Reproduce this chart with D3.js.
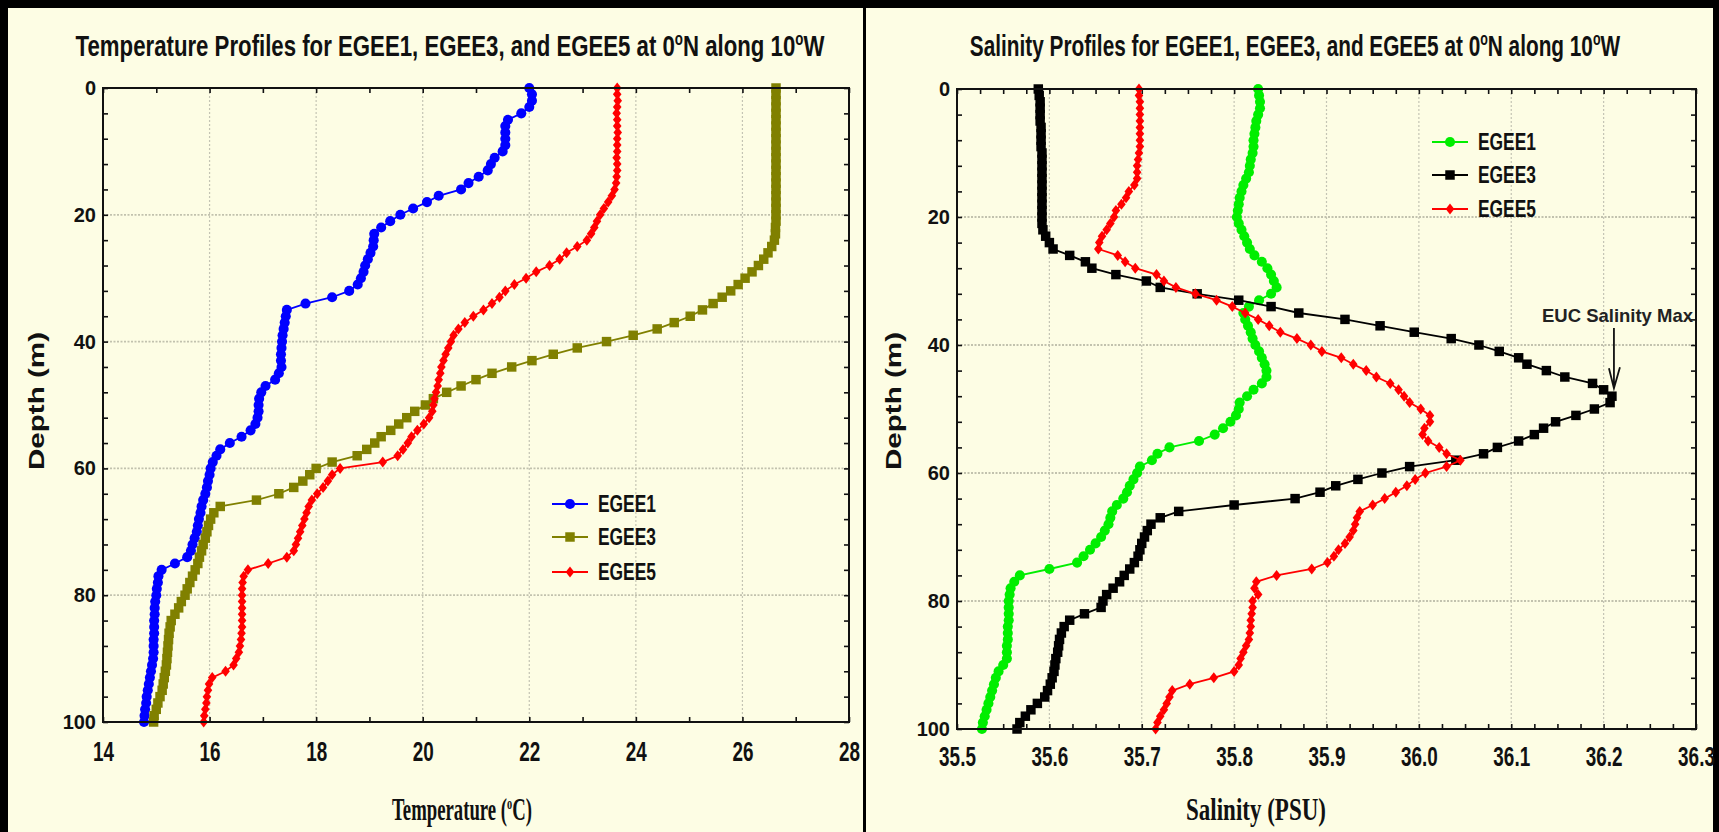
<!DOCTYPE html>
<html>
<head>
<meta charset="utf-8">
<script src="https://cdn.jsdelivr.net/npm/d3@7"></script>
<style>
  body { margin: 0; background: #000; }
  svg { display: block; }
</style>
</head>
<body>
<svg id="chart" width="1719" height="832"></svg>
<script>
// ----------------------------
// Data (depth in m, one reading per metre)
// ----------------------------
const depths = [0,1,2,3,4,5,6,7,8,9,10,11,12,13,14,15,16,17,18,19,20,21,22,23,24,25,26,27,28,29,30,
  31,32,33,34,35,36,37,38,39,40,41,42,43,44,45,46,47,48,49,50,51,52,53,54,55,56,57,58,59,60,
  61,62,63,64,65,66,67,68,69,70,71,72,73,74,75,76,77,78,79,80,81,82,83,84,85,86,87,88,89,90,
  91,92,93,94,95,96,97,98,99,100];

const seriesNames = ["EGEE1", "EGEE3", "EGEE5"];

const tempEGEE1 = [22.0,22.05,22.05,22.0,21.85,21.6,21.55,21.55,21.55,21.55,
  21.5,21.35,21.28,21.22,21.05,20.86,20.72,20.3,20.08,19.82,
  19.58,19.39,19.22,19.09,19.08,19.07,19.02,18.97,18.92,18.89,
  18.84,18.78,18.62,18.3,17.8,17.45,17.43,17.41,17.39,17.37,
  17.36,17.35,17.34,17.34,17.35,17.3,17.23,17.05,16.97,16.93,
  16.92,16.92,16.9,16.86,16.77,16.6,16.38,16.2,16.13,16.06,
  16.02,16.0,15.97,15.95,15.92,15.88,15.85,15.83,15.8,15.78,
  15.76,15.72,15.68,15.65,15.58,15.35,15.1,15.04,15.03,15.01,
  15.0,14.98,14.97,14.97,14.96,14.96,14.96,14.95,14.95,14.95,
  14.94,14.92,14.9,14.88,14.86,14.84,14.82,14.81,14.79,14.78,14.77];

const tempEGEE3 = [26.63,26.63,26.63,26.63,26.63,26.63,26.63,26.63,26.63,26.63,
  26.63,26.63,26.63,26.63,26.63,26.63,26.63,26.63,26.63,26.63,
  26.63,26.63,26.62,26.62,26.6,26.55,26.48,26.4,26.3,26.18,
  26.05,25.92,25.78,25.62,25.45,25.25,25.02,24.72,24.4,23.95,
  23.45,22.9,22.45,22.05,21.67,21.3,21.0,20.72,20.45,20.2,
  20.05,19.85,19.7,19.55,19.4,19.22,19.1,18.95,18.77,18.3,
  18.0,17.88,17.75,17.58,17.3,16.88,16.2,16.08,16.02,15.98,
  15.95,15.92,15.88,15.85,15.81,15.78,15.73,15.68,15.63,15.58,
  15.54,15.47,15.42,15.35,15.28,15.26,15.24,15.23,15.22,15.21,
  15.2,15.19,15.17,15.15,15.13,15.11,15.07,15.03,15.0,14.96,14.95];

const tempEGEE5 = [23.65,23.65,23.66,23.65,23.64,23.65,23.65,23.66,23.65,23.65,
  23.65,23.64,23.65,23.65,23.64,23.63,23.6,23.55,23.48,23.4,
  23.33,23.27,23.22,23.16,23.08,22.9,22.7,22.57,22.38,22.13,
  21.94,21.72,21.55,21.44,21.3,21.14,20.95,20.79,20.67,20.58,
  20.53,20.48,20.43,20.39,20.35,20.33,20.3,20.28,20.25,20.22,
  20.2,20.18,20.12,20.02,19.9,19.79,19.72,19.63,19.53,19.25,
  18.45,18.3,18.22,18.13,18.02,17.92,17.86,17.82,17.78,17.74,
  17.7,17.66,17.62,17.58,17.45,17.1,16.72,16.64,16.62,16.61,
  16.61,16.61,16.61,16.61,16.61,16.61,16.6,16.59,16.57,16.55,
  16.5,16.45,16.3,16.05,15.99,15.97,15.95,15.94,15.92,15.9,15.89];

const salEGEE1 = [35.826,35.827,35.828,35.828,35.826,35.824,35.823,35.822,35.821,35.821,
  35.82,35.818,35.817,35.816,35.813,35.81,35.808,35.806,35.805,35.804,
  35.803,35.805,35.808,35.811,35.814,35.817,35.822,35.83,35.836,35.84,
  35.843,35.846,35.84,35.827,35.816,35.81,35.812,35.815,35.818,35.82,
  35.823,35.827,35.83,35.833,35.835,35.835,35.83,35.821,35.814,35.806,
  35.805,35.802,35.796,35.788,35.779,35.762,35.73,35.717,35.711,35.698,
  35.695,35.691,35.687,35.684,35.68,35.673,35.668,35.666,35.664,35.66,
  35.656,35.65,35.644,35.637,35.63,35.6,35.568,35.562,35.558,35.557,
  35.556,35.556,35.556,35.556,35.555,35.555,35.555,35.554,35.554,35.554,
  35.55,35.545,35.542,35.54,35.538,35.536,35.534,35.532,35.53,35.528,35.527];

const salEGEE3 = [35.588,35.589,35.59,35.59,35.59,35.59,35.591,35.591,35.591,35.591,
  35.592,35.592,35.592,35.592,35.592,35.592,35.592,35.592,35.592,35.592,
  35.592,35.592,35.593,35.596,35.6,35.604,35.622,35.639,35.646,35.672,
  35.705,35.72,35.76,35.805,35.84,35.87,35.92,35.958,35.995,36.035,
  36.065,36.087,36.108,36.117,36.138,36.158,36.188,36.2,36.209,36.207,
  36.19,36.17,36.148,36.135,36.125,36.108,36.085,36.07,36.04,35.99,
  35.96,35.934,35.91,35.893,35.866,35.8,35.74,35.72,35.71,35.706,
  35.703,35.7,35.698,35.696,35.692,35.687,35.681,35.676,35.669,35.662,
  35.658,35.656,35.638,35.622,35.616,35.613,35.611,35.61,35.609,35.607,
  35.606,35.605,35.603,35.601,35.598,35.595,35.587,35.58,35.574,35.568,35.565];

const salEGEE5 = [35.697,35.697,35.698,35.698,35.698,35.698,35.698,35.698,35.698,35.698,
  35.697,35.696,35.695,35.695,35.695,35.692,35.686,35.683,35.678,35.672,
  35.67,35.666,35.662,35.657,35.654,35.653,35.674,35.682,35.693,35.716,
  35.724,35.737,35.758,35.781,35.798,35.812,35.826,35.838,35.85,35.868,
  35.883,35.895,35.916,35.929,35.943,35.954,35.969,35.978,35.984,35.99,
  36.002,36.012,36.012,36.006,36.004,36.01,36.022,36.03,36.045,36.03,
  36.007,35.996,35.987,35.975,35.963,35.95,35.936,35.933,35.931,35.929,
  35.925,35.92,35.913,35.908,35.901,35.884,35.846,35.824,35.822,35.826,
  35.82,35.82,35.819,35.818,35.818,35.817,35.816,35.813,35.81,35.807,
  35.805,35.8,35.778,35.752,35.733,35.73,35.727,35.724,35.72,35.717,35.715];

const depthTicks = [0, 20, 40, 60, 80, 100];
const tempTicks = [14, 16, 18, 20, 22, 24, 26, 28];
const salTicks = [35.5, 35.6, 35.7, 35.8, 35.9, 36.0, 36.1, 36.2, 36.3];

// ----------------------------
// Styling helpers
// ----------------------------
const CREAM = "#fdfde4";
const ARIAL = "'Liberation Sans', Arial, sans-serif";
const SERIF = "'Liberation Serif', 'Times New Roman', serif";

const diamondTall = {
  draw(ctx) {
    ctx.moveTo(0, -5.5); ctx.lineTo(4.3, 0); ctx.lineTo(0, 5.5); ctx.lineTo(-4.3, 0); ctx.closePath();
  }
};
const shapes = {
  circle: d3.symbol().type(d3.symbolCircle).size(80)(),
  square: d3.symbol().type(d3.symbolSquare).size(90)(),
  diamond: d3.symbol().type(diamondTall)()
};

// squeeze a text (anchored at 0,0) to a given width around (cx, y)
function fitWidth(text, cx, y, width) {
  const w = text.node().getBBox().width;
  text.attr("transform", `translate(${cx},${y}) scale(${width / w},1)`);
}

const svg = d3.select("#chart");
svg.append("rect").attr("width", 1719).attr("height", 832).attr("fill", "#000");
svg.append("rect").attr("x", 8).attr("y", 8).attr("width", 855).attr("height", 824).attr("fill", CREAM);
svg.append("rect").attr("x", 866).attr("y", 8).attr("width", 847).attr("height", 824).attr("fill", CREAM);

// ----------------------------
// One profile panel
// ----------------------------
function drawPanel(p) {
  const g = svg.append("g");
  const x = d3.scaleLinear().domain(p.xDomain).range([p.left, p.right]);
  const y = d3.scaleLinear().domain([0, 100]).range([p.top, p.bottom]);

  // dotted gridlines at major ticks
  g.append("g").selectAll("line").data(p.xTicks.slice(1, -1)).join("line")
      .attr("x1", d => x(d)).attr("x2", d => x(d))
      .attr("y1", p.top).attr("y2", p.bottom)
      .attr("stroke", "#c4c4b4").attr("stroke-width", 1.2).attr("stroke-dasharray", "2,2");
  g.append("g").selectAll("line").data(depthTicks.slice(1, -1)).join("line")
      .attr("x1", p.left).attr("x2", p.right)
      .attr("y1", d => y(d)).attr("y2", d => y(d))
      .attr("stroke", "#c2c2ae").attr("stroke-width", 1.8).attr("stroke-dasharray", "2,1.5");

  // inward minor ticks on all four sides
  const tickStyle = sel => {
    sel.select(".domain").remove();
    sel.selectAll("line").attr("stroke", "#111").attr("stroke-width", 1.6);
  };
  g.append("g").attr("transform", `translate(0,${p.bottom})`)
      .call(d3.axisBottom(x).tickValues(p.xMinor).tickSize(-5).tickFormat("")).call(tickStyle);
  g.append("g").attr("transform", `translate(0,${p.top})`)
      .call(d3.axisTop(x).tickValues(p.xMinor).tickSize(-5).tickFormat("")).call(tickStyle);
  g.append("g").attr("transform", `translate(${p.left},0)`)
      .call(d3.axisLeft(y).tickValues(d3.range(0, 101, 4)).tickSize(-5).tickFormat("")).call(tickStyle);
  g.append("g").attr("transform", `translate(${p.right},0)`)
      .call(d3.axisRight(y).tickValues(d3.range(0, 101, 4)).tickSize(-5).tickFormat("")).call(tickStyle);

  // tick labels (x labels are tall and condensed in the original)
  const xl = g.append("g").attr("transform", `translate(0,${p.bottom})`)
      .call(d3.axisBottom(x).tickValues(p.xTicks).tickSize(0).tickPadding(p.xPad).tickFormat(p.xFormat));
  xl.select(".domain").remove();
  xl.selectAll("text").attr("font-family", ARIAL).attr("font-weight", "bold")
      .attr("font-size", 27).attr("fill", "#111").attr("transform", "scale(0.7,1)");

  const yl = g.append("g").attr("transform", `translate(${p.left},0)`)
      .call(d3.axisLeft(y).tickValues(depthTicks).tickSize(0).tickPadding(7));
  yl.select(".domain").remove();
  yl.selectAll("text").attr("font-family", ARIAL).attr("font-weight", "bold")
      .attr("font-size", 20).attr("fill", "#111");

  // profiles
  const line = d3.line().x(d => x(d.v)).y(d => y(d.d));
  p.series.forEach(s => {
    const pts = depths.map((d, i) => ({ d: d, v: s.values[i] }));
    g.append("path").datum(pts)
        .attr("fill", "none").attr("stroke", s.color).attr("stroke-width", 1.8)
        .attr("d", line);
    g.append("g").selectAll("path").data(pts).join("path")
        .attr("transform", d => `translate(${x(d.v)},${y(d.d)})`)
        .attr("d", shapes[s.shape]).attr("fill", s.color);
  });

  // frame
  g.append("rect").attr("x", p.left).attr("y", p.top)
      .attr("width", p.right - p.left).attr("height", p.bottom - p.top)
      .attr("fill", "none").attr("stroke", "#111").attr("stroke-width", 2);

  // legend
  p.series.forEach((s, i) => {
    const ly = p.legend.ys[i];
    g.append("line").attr("x1", p.legend.x).attr("x2", p.legend.x + 36)
        .attr("y1", ly).attr("y2", ly).attr("stroke", s.color).attr("stroke-width", 2);
    g.append("path").attr("transform", `translate(${p.legend.x + 18},${ly})`)
        .attr("d", shapes[s.shape]).attr("fill", s.color);
    g.append("text").attr("x", p.legend.x + 46).attr("y", ly).attr("dy", "0.36em")
        .attr("font-family", ARIAL).attr("font-weight", "bold").attr("font-size", 23)
        .attr("fill", "#111").attr("textLength", 58).attr("lengthAdjust", "spacingAndGlyphs")
        .text(s.name);
  });

  // title with superscript degree marks
  const t = g.append("text").attr("x", 0).attr("y", 0)
      .attr("text-anchor", "middle").attr("font-family", ARIAL).attr("font-weight", "bold")
      .attr("font-size", 30).attr("fill", "#111");
  t.append("tspan").text(p.titleText + " at 0");
  t.append("tspan").attr("dy", -11).attr("font-size", 18).text("o");
  t.append("tspan").attr("dy", 11).text("N along 10");
  t.append("tspan").attr("dy", -11).attr("font-size", 18).text("o");
  t.append("tspan").attr("dy", 11).text("W");
  fitWidth(t, p.titleX, 56, p.titleLen);

  // axis titles
  g.append("text").attr("transform", `translate(${p.yTitleX},401) rotate(-90)`)
      .attr("text-anchor", "middle").attr("dy", "0.35em")
      .attr("font-family", ARIAL).attr("font-weight", "bold").attr("font-size", 22)
      .attr("fill", "#111").attr("textLength", 138).attr("lengthAdjust", "spacingAndGlyphs")
      .text("Depth (m)");

  const xt = g.append("text").attr("x", 0).attr("y", 0)
      .attr("text-anchor", "middle").attr("font-family", SERIF).attr("font-weight", "bold")
      .attr("font-size", 31).attr("fill", "#111");
  p.xTitle(xt);
  fitWidth(xt, p.xTitleX, 820, 140);

  return { x, y, g };
}

drawPanel({
  xDomain: [14, 28], left: 103, right: 849, top: 88, bottom: 722,
  xTicks: tempTicks, xMinor: d3.range(14, 28.01, 1), xPad: 20, xFormat: d3.format("d"),
  series: [
    { name: seriesNames[0], values: tempEGEE1, color: "#0000ff", shape: "circle" },
    { name: seriesNames[1], values: tempEGEE3, color: "#808000", shape: "square" },
    { name: seriesNames[2], values: tempEGEE5, color: "#ff0000", shape: "diamond" }
  ],
  legend: { x: 552, ys: [504, 537, 572] },
  titleX: 450, titleLen: 750,
  titleText: "Temperature Profiles for EGEE1, EGEE3, and EGEE5",
  yTitleX: 36, xTitleX: 462,
  xTitle: t => {
    t.append("tspan").text("Temperature (");
    t.append("tspan").attr("dy", -11).attr("font-size", 17).text("o");
    t.append("tspan").attr("dy", 11).text("C)");
  }
});

const right = drawPanel({
  xDomain: [35.5, 36.3], left: 957, right: 1696, top: 89, bottom: 729,
  xTicks: salTicks, xMinor: d3.range(35.5, 36.3001, 0.025), xPad: 18, xFormat: d3.format(".1f"),
  series: [
    { name: seriesNames[0], values: salEGEE1, color: "#00ee00", shape: "circle" },
    { name: seriesNames[1], values: salEGEE3, color: "#000000", shape: "square" },
    { name: seriesNames[2], values: salEGEE5, color: "#ff0000", shape: "diamond" }
  ],
  legend: { x: 1432, ys: [142, 175, 209] },
  titleX: 1295, titleLen: 651,
  titleText: "Salinity Profiles for EGEE1, EGEE3, and EGEE5",
  yTitleX: 893, xTitleX: 1256,
  xTitle: t => t.text("Salinity (PSU)")
});

// annotation for the salinity maximum of EGEE3
const maxIdx = d3.maxIndex(salEGEE3);
const ax = right.x(salEGEE3[maxIdx]) + 2;
const tipY = right.y(depths[maxIdx]) - 8;
right.g.append("text").attr("x", 1542).attr("y", 322)
    .attr("font-family", ARIAL).attr("font-weight", "bold").attr("font-size", 19)
    .attr("fill", "#222").attr("textLength", 151).attr("lengthAdjust", "spacingAndGlyphs")
    .text("EUC Salinity Max");
right.g.append("path")
    .attr("d", `M${ax},328V${tipY}M${ax - 5},${tipY - 20}L${ax},${tipY}L${ax + 6},${tipY - 21}`)
    .attr("fill", "none").attr("stroke", "#111").attr("stroke-width", 1.8);
</script>
</body>
</html>
